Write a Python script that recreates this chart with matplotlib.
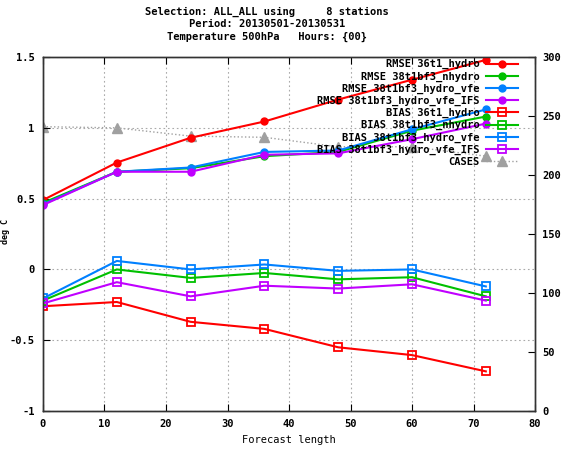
import matplotlib
matplotlib.use("Agg")
from matplotlib import pyplot as plt

plt.rcParams['font.family'] = ['DejaVu Sans Mono']
plt.rcParams['font.size'] = 7.5
plt.rcParams['font.weight'] = 'bold'

# forecast lengths
lead = [0, 12, 24, 36, 48, 60, 72]

# RMSE per experiment
rmse_36t1_hydro = [0.49, 0.755, 0.93, 1.045, 1.20, 1.34, 1.48]
rmse_38_nhydro = [0.47, 0.69, 0.715, 0.80, 0.83, 0.98, 1.08]
rmse_38_hydro_vfe = [0.46, 0.69, 0.72, 0.83, 0.84, 0.99, 1.13]
rmse_38_hydro_vfe_ifs = [0.455, 0.69, 0.69, 0.81, 0.82, 0.92, 1.03]

# BIAS per experiment
bias_36t1_hydro = [-0.26, -0.23, -0.37, -0.42, -0.55, -0.605, -0.72]
bias_38_nhydro = [-0.22, 0.0, -0.06, -0.025, -0.07, -0.055, -0.19]
bias_38_hydro_vfe = [-0.205, 0.06, 0.0, 0.035, -0.01, 0.0, -0.12]
bias_38_hydro_vfe_ifs = [-0.24, -0.09, -0.19, -0.115, -0.135, -0.105, -0.22]

# number of cases (right axis)
cases = [241, 240, 233, 232, 224, 224, 216]

red = '#ff0000'
green = '#00c000'
blue = '#0080ff'
purple = '#c000ff'
grey = '#a0a0a0'

fig = plt.figure(figsize=(5.62, 4.53), dpi=100)
ax = fig.add_axes([0.0765, 0.0927, 0.8755, 0.7813])
ax2 = ax.twinx()
ax.set_zorder(ax2.get_zorder() + 1)
ax.patch.set_visible(False)

lines = []
lw = 1.5
for vals, col, lab in [(rmse_36t1_hydro, red, 'RMSE 36t1_hydro'),
                       (rmse_38_nhydro, green, 'RMSE 38t1bf3_nhydro'),
                       (rmse_38_hydro_vfe, blue, 'RMSE 38t1bf3_hydro_vfe'),
                       (rmse_38_hydro_vfe_ifs, purple, 'RMSE 38t1bf3_hydro_vfe_IFS')]:
    l, = ax.plot(lead, vals, color=col, lw=lw, marker='o', ms=5, label=lab)
    lines.append(l)
for vals, col, lab in [(bias_36t1_hydro, red, 'BIAS 36t1_hydro'),
                       (bias_38_nhydro, green, 'BIAS 38t1bf3_nhydro'),
                       (bias_38_hydro_vfe, blue, 'BIAS 38t1bf3_hydro_vfe'),
                       (bias_38_hydro_vfe_ifs, purple, 'BIAS 38t1bf3_hydro_vfe_IFS')]:
    l, = ax.plot(lead, vals, color=col, lw=lw, marker='s', ms=6,
                 mfc='none', mew=1.3, label=lab)
    lines.append(l)

l, = ax2.plot(lead, cases, color=grey, lw=1, ls=':', marker='^', ms=7, label='CASES')
lines.append(l)

ax.set_xlim(0, 80)
ax.set_ylim(-1, 1.5)
ax2.set_ylim(0, 300)
ax.set_xticks(range(0, 81, 10))
ax.set_yticks([-1, -0.5, 0, 0.5, 1, 1.5])
ax.set_yticklabels(['-1', '-0.5', '0', '0.5', '1', '1.5'])
ax2.set_yticks(range(0, 301, 50))

ax.grid(True, color='#aaaaaa', ls=(0, (1.5, 2.5)), lw=0.8)
ax.tick_params(direction='in', length=5, top=True, pad=6)
ax2.tick_params(direction='in', length=5, pad=5)
for a in (ax, ax2):
    for s in a.spines.values():
        s.set_color('#333333')
        s.set_linewidth(1)

ax.set_xlabel('Forecast length', labelpad=4)

leg = ax.legend(handles=lines, loc='upper right', bbox_to_anchor=(0.9695, 1.0),
                markerfirst=False, frameon=False,
                handlelength=3.1, handletextpad=0.6, labelspacing=0.19,
                borderaxespad=0, borderpad=0.2)

fig.text(0.475, 0.985, 'Selection: ALL_ALL using     8 stations\n'
         'Period: 20130501-20130531\n'
         'Temperature 500hPa   Hours: {00}',
         ha='center', va='top', linespacing=1.3)
fig.text(0.001, 0.49, 'deg C', rotation=90, ha='left', va='center', fontsize=6)

fig.savefig('out.png', dpi=100)
